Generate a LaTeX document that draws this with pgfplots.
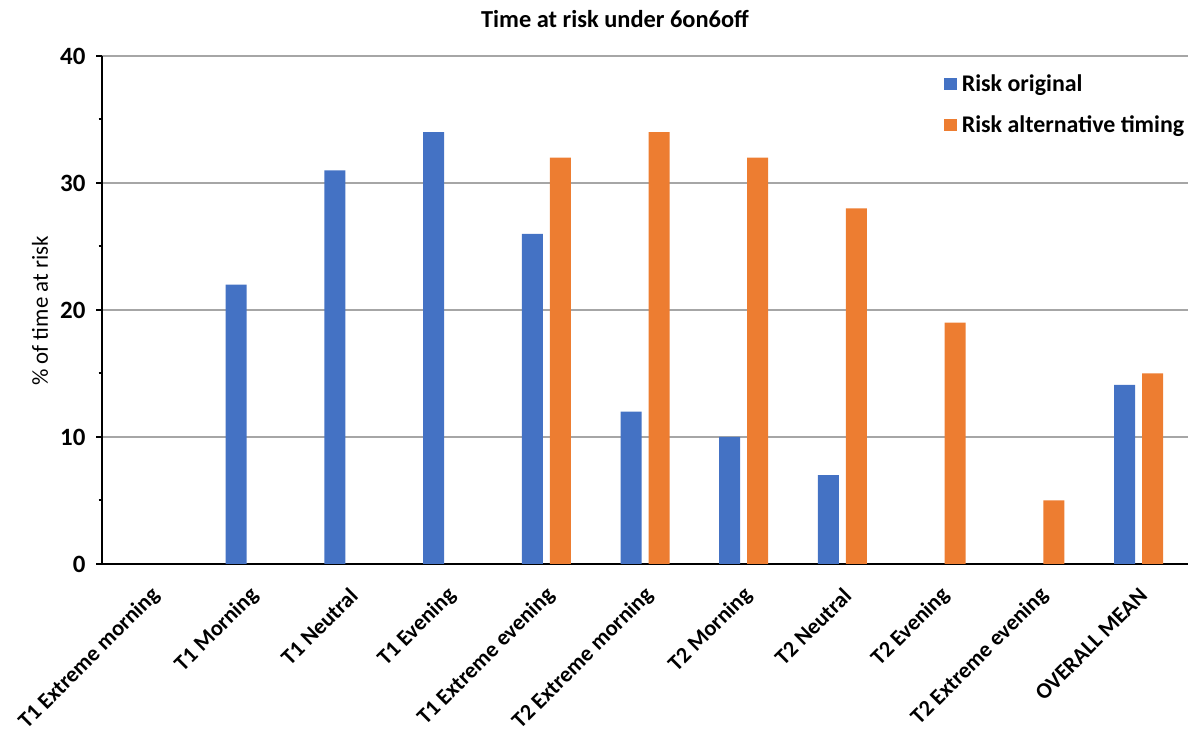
\documentclass[border=0pt]{standalone}
\usepackage{fontspec}
\setmainfont{Carlito}
\usepackage{pgfplots}
\pgfplotsset{compat=1.18}
\definecolor{cblue}{HTML}{4472C4}
\definecolor{corange}{HTML}{ED7D31}
\definecolor{cgrid}{HTML}{A6A6A6}
\begin{document}
\begin{tikzpicture}
\useasboundingbox (0,0) rectangle (1188bp,733bp);
\begin{axis}[
  at={(102bp,169bp)}, anchor=south west,
  scale only axis, width=1086bp, height=508bp,
  ybar=7bp, bar width=21bp,
  xmin=-0.5, xmax=10.5, ymin=0, ymax=40,
  axis lines=left,
  axis line style={-, line width=2.5bp, black},
  ytick={0,10,20,30,40},
  minor y tick num=1,
  tick align=outside,
  major tick length=6bp, minor tick length=3.5bp,
  every tick/.style={black, line width=2bp},
  ymajorgrids,
  major grid style={cgrid, line width=1.3bp},
  xtick={0,...,10},
  xticklabels={T1 Extreme morning, T1 Morning, T1 Neutral, T1 Evening, T1 Extreme evening, T2 Extreme morning, T2 Morning, T2 Neutral, T2 Evening, T2 Extreme evening, OVERALL MEAN},
  xtick style={draw=none},
  xticklabel style={rotate=45, anchor=east, inner sep=0pt, font=\fontsize{22.5}{25}\selectfont\bfseries, xshift=-12bp, yshift=-19bp},
  yticklabel style={font=\fontsize{25}{28}\selectfont\bfseries, xshift=-7bp},
  /pgf/number format/assume math mode=true,
  legend style={draw=none, fill=none, at={(0.775,0.968)}, anchor=north west,
    font=\fontsize{24}{27}\selectfont\bfseries, row sep=19bp, inner sep=0pt,
    /tikz/every even column/.append style={column sep=0bp}},
  legend cell align=left,
  legend image code/.code={\fill[#1] (0bp,-6bp) rectangle (13bp,6bp);},
  legend style={nodes={inner xsep=5bp}},
]
\addplot[fill=cblue, draw=none] coordinates {(1,22) (2,31) (3,34) (4,26) (5,12) (6,10) (7,7) (10,14.1)};
\addplot[fill=corange, draw=none] coordinates {(4,32) (5,34) (6,32) (7,28) (8,19) (9,5) (10,15)};
\legend{Risk original, Risk alternative timing}
\end{axis}
\node[font=\fontsize{24.5}{28}\selectfont\bfseries] at (615bp,714bp) {Time at risk under 6on6off};
\node[font=\fontsize{23}{26}\selectfont, rotate=90] at (40bp,422bp) {\% of time at risk};
\end{tikzpicture}
\end{document}
